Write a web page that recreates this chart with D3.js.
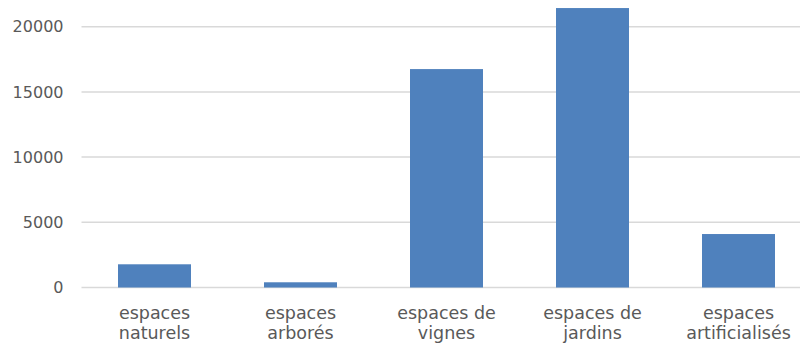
<!DOCTYPE html>
<html><head><meta charset="utf-8">
<script src="https://cdn.jsdelivr.net/npm/d3@7"></script>
<style>body{margin:0;background:#fff;} text{font-family:"DejaVu Sans",sans-serif;fill:#595959;}</style>
</head><body><svg id="chart"></svg>
<script>
const categories = ["espaces naturels", "espaces arborés", "espaces de vignes", "espaces de jardins", "espaces artificialisés"];
const labelLines = [["espaces", "naturels"], ["espaces", "arborés"], ["espaces de", "vignes"], ["espaces de", "jardins"], ["espaces", "artificialisés"]];
const values = [1780, 400, 16750, 21430, 4100];
const yTicks = [0, 5000, 10000, 15000, 20000];

const W = 800, H = 343;
const svg = d3.select('#chart').attr('width', W).attr('height', H);
const x = d3.scaleBand().domain(categories).range([81.5, 811.5]).paddingInner(0.5).paddingOuter(0.25);
const y = d3.scaleLinear().domain([0, 20000]).range([287.5, 26.7]);

// gridlines
svg.append('g').selectAll('line').data(yTicks).join('line')
  .attr('x1', 81.5).attr('x2', W).attr('y1', d => y(d)).attr('y2', d => y(d))
  .attr('stroke', '#d9d9d9').attr('stroke-width', 1.5);

// y labels
svg.append('g').selectAll('text').data(yTicks).join('text')
  .attr('x', 63.5).attr('y', d => y(d)).attr('dy', '0.36em').attr('text-anchor', 'end')
  .style('font-size', '16px').text(d => d);

// bars
svg.append('g').selectAll('rect').data(values).join('rect')
  .attr('x', (d, i) => x(categories[i])).attr('width', x.bandwidth())
  .attr('y', d => y(d)).attr('height', d => y(0) - y(d)).attr('fill', '#4f81bd');

// x labels
const xl = svg.append('g').selectAll('text').data(categories).join('text')
  .attr('text-anchor', 'middle').style('font-size', '17.5px')
  .attr('transform', d => `translate(${x(d) + x.bandwidth() / 2},319)`);
xl.selectAll('tspan').data((d, i) => labelLines[i]).join('tspan')
  .attr('x', 0).attr('dy', (d, j) => j ? 19.5 : 0).text(d => d);
</script></body></html>
